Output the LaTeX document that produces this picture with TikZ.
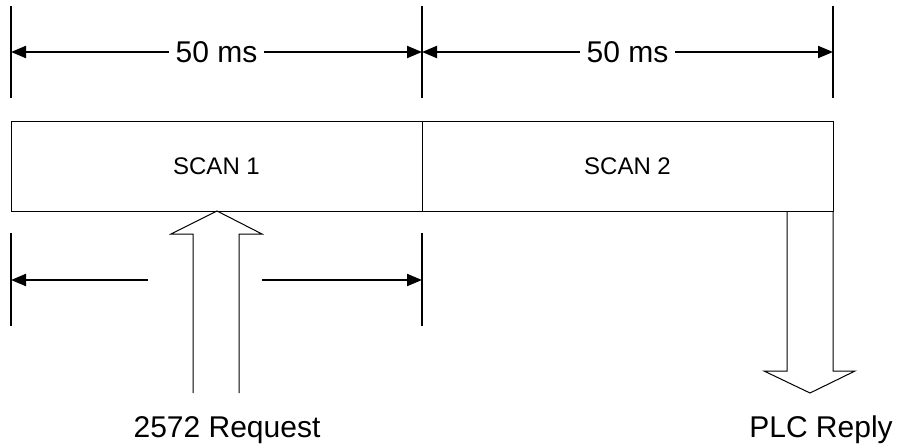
\documentclass[tikz,border=0pt]{standalone}
\usepackage{fontspec}
\setmainfont{Liberation Sans}
\usetikzlibrary{arrows.meta}

\begin{document}
\begin{tikzpicture}[x=0.5pt,y=-0.5pt,
    tick/.style={line width=1pt},
    dim/.style={line width=1pt,-{Triangle[length=7.5pt,width=6pt]}},
    hollow/.style={line width=0.5pt},
    scanbox/.style={draw,line width=0.5pt,minimum width=205.5pt,minimum height=45pt,font=\fontsize{12}{14}\selectfont},
    lbl/.style={font=\fontsize{15}{18}\selectfont,inner sep=0pt}]
    \useasboundingbox (0,0) rectangle (897,444);
    % timing ticks
    \foreach \x/\n in {11/a,422/b,833/c}{
        \draw[tick] (\x,6) -- (\x,98);
        \coordinate (t\n) at (\x,52);
    }
    \foreach \x/\n in {11/a,422/b}{
        \draw[tick] (\x,233) -- (\x,326);
        \coordinate (u\n) at (\x,280);
    }
    \draw[dim,{Triangle[length=7.5pt,width=6pt]}-{Triangle[length=7.5pt,width=6pt]}] (ta) -- node[lbl,fill=white,inner xsep=3.5pt] (msa) {50 ms} (tb);
    \draw[dim,{Triangle[length=7.5pt,width=6pt]}-{Triangle[length=7.5pt,width=6pt]}] (tb) -- node[lbl,fill=white,inner xsep=3.5pt] (msb) {50 ms} (tc);
    % scans
    \node[scanbox] (scan1) at (216.5,166) {SCAN 1};
    \node[scanbox] (scan2) at (627.5,166) {SCAN 2};
    % lower span
    \coordinate (ul) at (148,280);
    \coordinate (ur) at (262,280);
    \draw[dim] (ul) -- (ua);
    \draw[dim] (ur) -- (ub);
    % request and reply
    \draw[hollow] (193,393) -- (193,234) -- (171,234) -- (217,211) -- (262,234) -- (239,234) -- (239,393);
    \draw[hollow] (787,211) -- (787,371) -- (764,371) -- (810,393) -- (855,371) -- (833,371) -- (833,211);
    \node[lbl,anchor=base] (req) at (227,437) {2572 Request};
    \node[lbl,anchor=base] (reply) at (821,437) {PLC Reply};
\end{tikzpicture}
\end{document}
